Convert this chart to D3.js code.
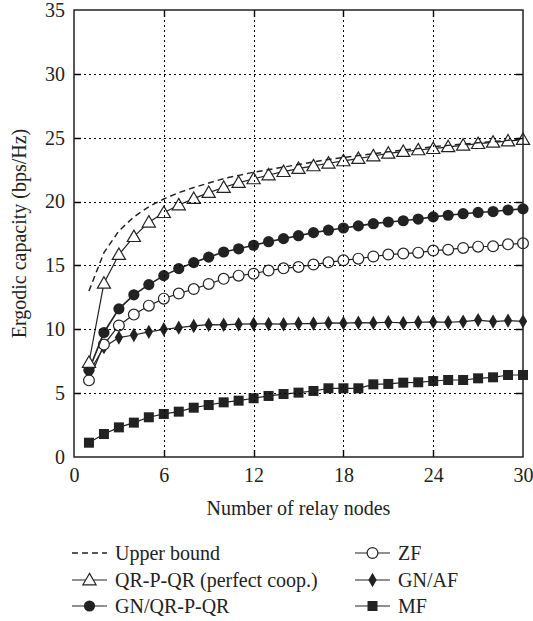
<!DOCTYPE html>
<html>
<head>
<meta charset="utf-8">
<script src="https://cdn.jsdelivr.net/npm/d3@7"></script>
<style>
  body { margin: 0; background: #fff; }
  text { font-family: "Liberation Serif", "DejaVu Serif", serif; fill: #222; }
</style>
</head>
<body>
<div id="chart"></div>
<script>
// relay node counts
var nodes = d3.range(1, 31);

var upperBound = [13.0, 16.0, 17.7, 18.8, 19.6, 20.2, 20.7, 21.1, 21.45, 21.8,
    22.05, 22.3, 22.5, 22.7, 22.9, 23.1, 23.3, 23.45, 23.6, 23.75,
    23.9, 24.05, 24.15, 24.3, 24.4, 24.5, 24.6, 24.7, 24.8, 24.95];
var qrpqr = [7.4, 13.6, 15.85, 17.25, 18.38, 19.13, 19.73, 20.23, 20.7, 21.1,
    21.48, 21.77, 22.08, 22.34, 22.58, 22.79, 23.0, 23.18, 23.36, 23.57,
    23.78, 23.91, 24.04, 24.14, 24.28, 24.4, 24.53, 24.64, 24.74, 24.85];
var gnqr = [6.8, 9.75, 11.6, 12.7, 13.5, 14.2, 14.75, 15.22, 15.65, 16.05,
    16.3, 16.58, 16.86, 17.1, 17.33, 17.57, 17.76, 17.93, 18.1, 18.27,
    18.4, 18.5, 18.63, 18.8, 18.93, 19.05, 19.15, 19.22, 19.34, 19.43];
var zf = [6.0, 8.8, 10.3, 11.15, 11.85, 12.4, 12.8, 13.15, 13.55, 13.95,
    14.2, 14.35, 14.6, 14.77, 14.88, 15.07, 15.24, 15.4, 15.53, 15.7,
    15.85, 15.93, 16.0, 16.16, 16.23, 16.37, 16.47, 16.5, 16.65, 16.73];
var gnaf = [6.6, 8.6, 9.35, 9.55, 9.8, 10.0, 10.13, 10.26, 10.36, 10.35,
    10.4, 10.42, 10.42, 10.4, 10.45, 10.45, 10.5, 10.48, 10.52, 10.5,
    10.55, 10.5, 10.55, 10.58, 10.55, 10.6, 10.72, 10.6, 10.68, 10.62];
var mf = [1.12, 1.8, 2.32, 2.69, 3.11, 3.37, 3.55, 3.86, 4.07, 4.28,
    4.41, 4.6, 4.78, 4.93, 5.04, 5.17, 5.38, 5.38, 5.38, 5.69,
    5.72, 5.82, 5.85, 5.95, 6.03, 6.03, 6.16, 6.24, 6.42, 6.42];

var xTicks = [0, 6, 12, 18, 24, 30];
var yTicks = [0, 5, 10, 15, 20, 25, 30, 35];

var series = [
    {name: "Upper bound", values: upperBound, marker: null, dashed: true},
    {name: "QR-P-QR (perfect coop.)", values: qrpqr, marker: "triangle"},
    {name: "GN/QR-P-QR", values: gnqr, marker: "circleFilled"},
    {name: "ZF", values: zf, marker: "circleOpen"},
    {name: "GN/AF", values: gnaf, marker: "diamond"},
    {name: "MF", values: mf, marker: "square"}
];

var width = 533, height = 621;
var margin = {top: 10, right: 10, bottom: 164, left: 74};
var w = width - margin.left - margin.right,
    h = height - margin.top - margin.bottom;
var ink = "#222";
var fontSize = 20;

var svg = d3.select("#chart").append("svg")
    .attr("width", width).attr("height", height);
var g = svg.append("g")
    .attr("transform", "translate(" + margin.left + "," + margin.top + ")");

var x = d3.scaleLinear().domain([0, 30]).range([0, w]);
var y = d3.scaleLinear().domain([0, 35]).range([h, 0]);

// tick labels
g.append("g").attr("transform", "translate(0," + h + ")")
    .call(d3.axisBottom(x).tickValues(xTicks).tickSize(0).tickPadding(11));
g.append("g")
    .call(d3.axisLeft(y).tickValues(yTicks).tickSize(0).tickPadding(9));
g.selectAll(".domain").remove();
g.selectAll(".tick line").remove();
g.selectAll(".tick text").attr("font-size", fontSize).attr("fill", ink);

// axis titles
svg.append("text")
    .attr("x", margin.left + w / 2).attr("y", 515)
    .attr("text-anchor", "middle").attr("font-size", fontSize)
    .text("Number of relay nodes");
svg.append("text")
    .attr("transform", "translate(26," + (margin.top + h / 2) + ") rotate(-90)")
    .attr("text-anchor", "middle").attr("font-size", fontSize)
    .text("Ergodic capacity (bps/Hz)");

// marker drawing
function drawMarker(sel, type) {
    if (type === "triangle") {
        sel.append("path").attr("d", d3.symbol().type(d3.symbolTriangle).size(75)())
            .attr("transform", "translate(0,1)")
            .attr("fill", "#fff").attr("stroke", ink).attr("stroke-width", 1.2);
    } else if (type === "circleFilled") {
        sel.append("circle").attr("r", 5.6).attr("fill", ink);
    } else if (type === "circleOpen") {
        sel.append("circle").attr("r", 5.4).attr("fill", "#fff")
            .attr("stroke", ink).attr("stroke-width", 1.2);
    } else if (type === "diamond") {
        sel.append("path").attr("d", d3.symbol().type(d3.symbolDiamond).size(60)())
            .attr("fill", ink);
    } else if (type === "square") {
        sel.append("rect").attr("x", -5).attr("y", -5)
            .attr("width", 10).attr("height", 10).attr("fill", ink);
    }
}

var line = d3.line()
    .x(function(d, i) { return x(nodes[i]); })
    .y(function(d) { return y(d); });

// series, bottom one first
var drawOrder = [5, 4, 3, 2, 1, 0];
drawOrder.forEach(function(k) {
    var s = series[k];
    g.append("path")
        .datum(s.values)
        .attr("fill", "none")
        .attr("stroke", ink)
        .attr("stroke-width", s.dashed ? 1.5 : (k === 2 ? 1.6 : 1.2))
        .attr("stroke-dasharray", s.dashed ? "6,4" : null)
        .attr("d", line);
    if (s.marker) {
        g.append("g").selectAll("g").data(s.values).join("g")
            .attr("transform", function(d, i) {
                return "translate(" + x(nodes[i]) + "," + y(d) + ")";
            })
            .each(function() { drawMarker(d3.select(this), s.marker); });
    }
});

// dotted grid and inward ticks, put on top so nothing hides them
var gridLayer = svg.append("g")
    .attr("transform", "translate(" + margin.left + "," + margin.top + ")");
var gridPath = d3.path();
xTicks.slice(1, -1).forEach(function(d) {
    var px = Math.round(x(d)) + 0.5;
    gridPath.moveTo(px, 0); gridPath.lineTo(px, h);
});
yTicks.slice(1, -1).forEach(function(d) {
    var py = Math.round(y(d)) + 0.5;
    gridPath.moveTo(0, py); gridPath.lineTo(w, py);
});
gridLayer.append("path").attr("d", gridPath.toString())
    .attr("fill", "none").attr("stroke", "#000")
    .attr("stroke-width", 1).attr("stroke-dasharray", "2,3");

var tickLen = 7;
var tickPath = d3.path();
xTicks.slice(1, -1).forEach(function(d) {
    var px = Math.round(x(d)) + 0.5;
    tickPath.moveTo(px, h); tickPath.lineTo(px, h - tickLen);
    tickPath.moveTo(px, 0); tickPath.lineTo(px, tickLen);
});
yTicks.slice(1, -1).forEach(function(d) {
    var py = Math.round(y(d)) + 0.5;
    tickPath.moveTo(0, py); tickPath.lineTo(tickLen, py);
    tickPath.moveTo(w, py); tickPath.lineTo(w - tickLen, py);
});
gridLayer.append("path").attr("d", tickPath.toString())
    .attr("fill", "none").attr("stroke", "#000").attr("stroke-width", 1.4);

gridLayer.append("rect").attr("width", w).attr("height", h)
    .attr("fill", "none").attr("stroke", ink).attr("stroke-width", 1.5);

// legend
var legendPos = [
    {k: 0, x: 72, y: 553}, {k: 1, x: 72, y: 580}, {k: 2, x: 72, y: 606},
    {k: 3, x: 355, y: 553}, {k: 4, x: 355, y: 580}, {k: 5, x: 355, y: 606}
];
var legend = svg.append("g");
legendPos.forEach(function(p) {
    var s = series[p.k];
    var item = legend.append("g").attr("transform", "translate(" + p.x + "," + p.y + ")");
    item.append("line").attr("x1", 0).attr("x2", 35).attr("y1", 0).attr("y2", 0)
        .attr("stroke", ink).attr("stroke-width", s.dashed ? 1.5 : 1.2)
        .attr("stroke-dasharray", s.dashed ? "6,4" : null);
    if (s.marker) {
        var m = item.append("g").attr("transform", "translate(17.5,0)");
        drawMarker(m, s.marker);
    }
    item.append("text").attr("x", 43).attr("y", 6.5)
        .attr("font-size", fontSize).text(s.name);
});
</script>
</body>
</html>
